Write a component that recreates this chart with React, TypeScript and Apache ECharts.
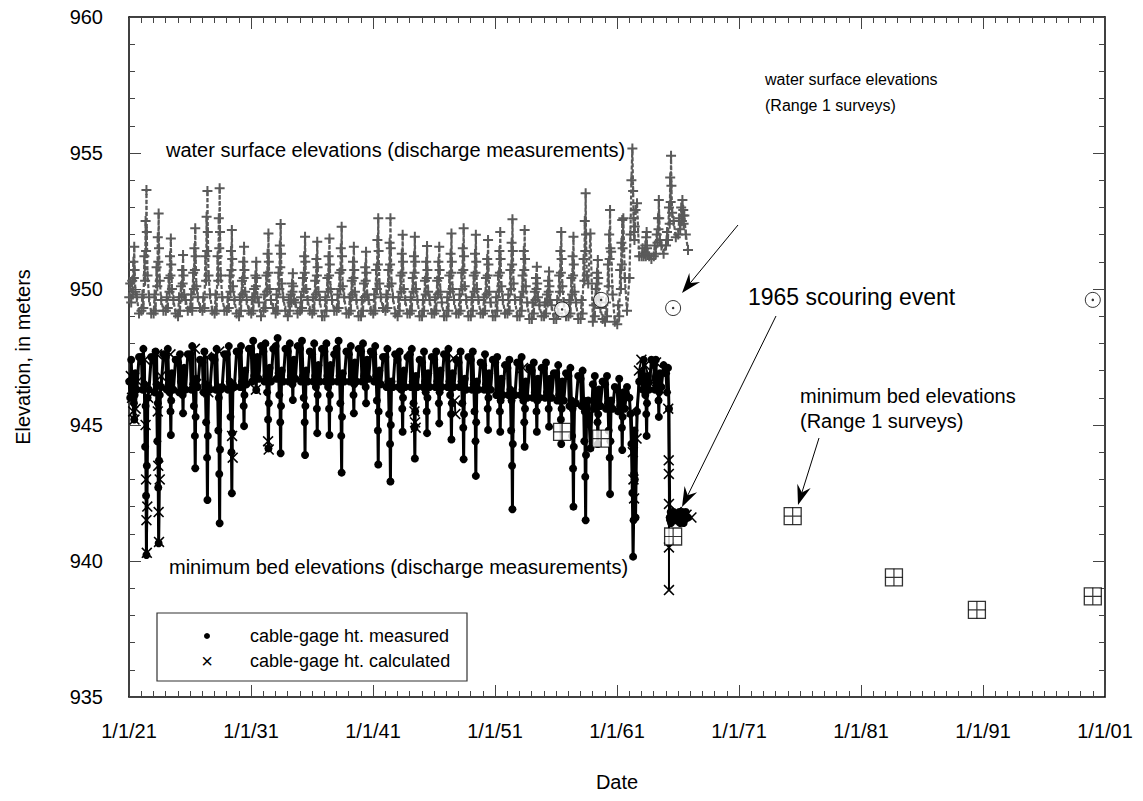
import React, { useEffect, useRef } from "react";
import * as echarts from "echarts";

const FONT = '"Liberation Sans", Arial, Helvetica, sans-serif';

// x axis runs in years after 1 Jan 1921
const AXIS_START_YEAR = 1921;
const AXIS_END_YEAR = 2001;

// fraction of the year at which each of the yearly discharge-measurement readings falls
const readingFractions = [0.02, 0.1, 0.18, 0.26, 0.32, 0.36, 0.4, 0.43, 0.46, 0.52, 0.64, 0.82];

const readingYears = [
  1921, 1922, 1923, 1924, 1925, 1926, 1927, 1928, 1929, 1930,
  1931, 1932, 1933, 1934, 1935, 1936, 1937, 1938, 1939, 1940,
  1941, 1942, 1943, 1944, 1945, 1946, 1947, 1948, 1949, 1950,
  1951, 1952, 1953, 1954, 1955, 1956, 1957, 1958, 1959, 1960,
  1961, 1962, 1963, 1964, 1965, 1966,
];

// water surface elevation (m) at each reading, one row per year
const waterSurfaceReadings = [
  [949.7, 950.2, 949.5, 950.3, 949.8, 951.0, 950.4, 951.55, 950.7, 949.9, 949.7, 949.1],
  [949.2, 949.8, 949.3, 951.2, 950.3, 952.5, 951.4, 953.64, 952.1, 950.5, 949.7, 949.1],
  [949.1, 949.8, 949.2, 950.8, 950.1, 951.9, 951.0, 952.78, 951.5, 950.3, 949.6, 949.2],
  [949.2, 949.7, 949.3, 950.4, 949.9, 951.2, 950.5, 951.86, 950.9, 950.0, 949.6, 949.1],
  [949.0, 949.7, 949.2, 950.1, 949.7, 950.7, 950.2, 951.25, 950.5, 949.8, 949.6, 949.2],
  [949.3, 949.8, 949.2, 950.6, 950.0, 951.5, 950.7, 952.23, 951.2, 950.1, 949.7, 949.3],
  [949.2, 949.7, 949.3, 951.2, 950.3, 952.66, 951.4, 953.6, 952.1, 950.5, 949.8, 949.2],
  [949.1, 949.8, 949.2, 951.2, 950.3, 952.6, 951.5, 953.7, 952.1, 950.5, 949.7, 949.2],
  [949.2, 949.7, 949.3, 950.5, 949.9, 951.4, 950.7, 952.17, 951.1, 950.1, 949.6, 949.1],
  [949.0, 949.7, 949.2, 950.3, 949.8, 951.0, 950.4, 951.55, 950.7, 949.9, 949.6, 949.2],
  [949.1, 949.7, 949.2, 950.0, 949.7, 950.5, 950.1, 951.0, 950.4, 949.7, 949.5, 949.0],
  [949.2, 949.8, 949.3, 950.5, 949.9, 951.3, 950.6, 952.04, 951.0, 950.0, 949.6, 949.3],
  [949.1, 949.8, 949.2, 950.6, 950.0, 951.6, 950.8, 952.39, 951.3, 950.2, 949.7, 949.2],
  [949.0, 949.6, 949.2, 949.8, 949.5, 950.2, 949.9, 950.58, 950.1, 949.6, 949.5, 949.1],
  [949.2, 949.7, 949.3, 950.4, 949.9, 951.2, 950.6, 951.92, 951.0, 950.0, 949.6, 949.2],
  [949.1, 949.7, 949.2, 950.3, 949.8, 951.1, 950.5, 951.74, 950.8, 949.9, 949.6, 949.0],
  [949.0, 949.7, 949.2, 950.4, 949.9, 951.2, 950.5, 951.86, 950.9, 950.0, 949.6, 949.2],
  [949.2, 949.8, 949.3, 950.6, 950.0, 951.5, 950.7, 952.29, 951.2, 950.1, 949.7, 949.1],
  [949.1, 949.7, 949.2, 950.3, 949.8, 951.0, 950.4, 951.55, 950.7, 949.9, 949.6, 949.0],
  [949.0, 949.6, 949.2, 950.2, 949.7, 950.8, 950.3, 951.37, 950.6, 949.8, 949.6, 949.2],
  [949.1, 949.8, 949.2, 950.7, 950.0, 951.8, 950.9, 952.6, 951.4, 950.2, 949.7, 949.3],
  [949.2, 949.8, 949.3, 950.7, 950.1, 951.7, 950.9, 952.6, 951.5, 950.2, 949.7, 949.1],
  [949.0, 949.7, 949.2, 950.5, 949.9, 951.3, 950.6, 951.99, 951.0, 950.0, 949.6, 949.1],
  [949.1, 949.7, 949.2, 950.4, 949.9, 951.2, 950.6, 951.92, 951.0, 950.0, 949.6, 949.0],
  [949.0, 949.6, 949.2, 950.3, 949.8, 951.0, 950.4, 951.58, 950.7, 949.9, 949.6, 949.1],
  [949.1, 949.7, 949.2, 950.3, 949.8, 951.0, 950.4, 951.55, 950.7, 949.9, 949.5, 949.0],
  [949.0, 949.7, 949.2, 950.5, 949.9, 951.3, 950.6, 952.04, 951.0, 950.0, 949.6, 949.1],
  [949.1, 949.8, 949.2, 950.6, 950.0, 951.5, 950.7, 952.23, 951.2, 950.1, 949.6, 949.0],
  [949.0, 949.7, 949.2, 950.5, 949.9, 951.3, 950.6, 951.99, 951.0, 950.0, 949.6, 949.1],
  [949.1, 949.7, 949.2, 950.4, 949.8, 951.1, 950.5, 951.8, 950.9, 949.9, 949.5, 949.0],
  [949.0, 949.7, 949.2, 950.5, 949.9, 951.4, 950.6, 952.1, 951.1, 950.1, 949.6, 949.1],
  [949.1, 949.8, 949.2, 950.7, 950.0, 951.7, 950.9, 952.56, 951.4, 950.2, 949.6, 949.0],
  [949.0, 949.7, 949.2, 950.5, 949.9, 951.4, 950.7, 952.17, 951.1, 950.1, 949.5, 948.9],
  [948.9, 949.5, 949.1, 949.9, 949.6, 950.4, 950.0, 950.82, 950.2, 949.7, 949.4, 949.0],
  [949.0, 949.5, 949.1, 949.8, 949.5, 950.3, 949.9, 950.64, 950.1, 949.6, 949.4, 948.9],
  [948.9, 949.6, 949.1, 950.5, 949.9, 951.4, 950.6, 952.1, 951.1, 950.1, 949.5, 949.0],
  [949.0, 949.6, 949.1, 950.4, 949.8, 951.2, 950.5, 951.92, 950.9, 949.9, 949.5, 948.9],
  [948.9, 949.6, 949.1, 951.1, 950.3, 952.5, 951.4, 953.52, 952.0, 950.5, 950.2, 952.04],
  [948.8, 949.4, 949.0, 950.0, 949.6, 950.6, 950.2, 951.07, 950.4, 949.7, 949.3, 948.9],
  [948.8, 949.5, 949.0, 950.9, 950.1, 952.0, 951.1, 952.9, 951.5, 951.37, 949.8, 948.8],
  [948.7, 949.4, 949.0, 950.7, 950.0, 951.7, 950.9, 952.54, 951.5, 952.6, 950.4, 949.2],
  [950.4, 952.0, 954.0, 955.17, 953.6, 952.6, 952.1, 951.8, 952.3, 952.9, 953.15, 951.2],
  [951.2, 951.5, 951.2, 951.3, 951.6, 951.2, 951.9, 952.1, 951.5, 951.3, 951.2, 951.1],
  [951.2, 951.6, 951.3, 952.0, 951.7, 952.6, 952.2, 953.27, 952.6, 951.8, 951.6, 951.3],
  [951.6, 952.1, 951.8, 953.0, 952.4, 954.1, 953.2, 954.9, 953.8, 952.8, 952.5, 951.9],
  [952.0, 952.6, 952.2, 953.0, 952.5, 953.27, 952.7, 952.9, 952.4, 952.7, 952.0, 951.43],
];

// minimum bed elevation (m) from measured cable-gage heights, one row per year
const bedMeasuredReadings = [
  [946.6, 946.0, 947.4, 946.4, 946.35, 946.8, 945.8, 945.2, 946.1, 946.9, 946.3, 947.5],
  [947.5, 946.3, 947.8, 946.5, 944.2, 945.7, 942.4, 940.22, 943.5, 946.0, 946.3, 947.5],
  [947.4, 946.2, 947.7, 946.5, 944.4, 945.8, 942.7, 940.65, 943.7, 946.1, 946.4, 947.6],
  [947.5, 946.3, 947.8, 946.5, 946.2, 946.8, 945.5, 944.63, 945.9, 946.9, 946.3, 947.4],
  [947.3, 946.2, 947.6, 946.6, 946.6, 947.0, 946.1, 945.43, 946.4, 947.1, 946.3, 947.6],
  [947.6, 946.3, 947.9, 946.5, 945.7, 946.5, 944.6, 943.41, 945.3, 946.7, 946.4, 947.4],
  [947.3, 946.2, 947.7, 946.5, 945.1, 946.2, 943.8, 942.24, 944.6, 946.4, 946.3, 947.5],
  [947.4, 946.3, 947.8, 946.4, 944.8, 946.0, 943.2, 941.39, 944.1, 946.3, 946.4, 947.6],
  [947.6, 946.3, 947.9, 946.6, 945.3, 946.3, 944.0, 942.49, 944.7, 946.5, 946.4, 947.7],
  [947.7, 946.4, 947.9, 946.6, 946.4, 946.9, 945.7, 944.96, 946.1, 947.0, 946.5, 947.8],
  [947.8, 946.6, 948.1, 946.8, 947.1, 947.4, 946.7, 946.29, 947.0, 947.5, 946.7, 947.9],
  [947.7, 946.6, 948.0, 946.8, 946.2, 946.9, 945.2, 944.14, 945.8, 947.1, 946.6, 947.8],
  [947.9, 946.7, 948.2, 946.9, 946.1, 946.8, 945.1, 943.96, 945.7, 947.0, 946.6, 947.8],
  [947.7, 946.6, 948.0, 946.8, 947.0, 947.3, 946.5, 945.92, 946.8, 947.4, 946.7, 947.9],
  [947.8, 946.6, 948.1, 946.8, 946.0, 946.8, 945.1, 943.9, 945.7, 947.0, 946.6, 947.7],
  [947.6, 946.6, 948.0, 946.8, 946.4, 947.0, 945.6, 944.7, 946.1, 947.2, 946.6, 947.8],
  [947.7, 946.6, 948.0, 946.8, 946.4, 947.0, 945.6, 944.63, 946.1, 947.2, 946.6, 947.6],
  [947.8, 946.6, 948.1, 946.8, 945.8, 946.7, 944.6, 943.25, 945.3, 946.9, 946.6, 947.7],
  [947.6, 946.6, 947.9, 946.8, 946.7, 947.2, 946.1, 945.43, 946.5, 947.3, 946.6, 947.8],
  [947.7, 946.6, 948.0, 946.8, 946.9, 947.3, 946.4, 945.8, 946.7, 947.4, 946.7, 947.7],
  [947.6, 946.6, 947.9, 946.8, 945.9, 946.7, 944.8, 943.55, 945.5, 947.0, 946.5, 947.5],
  [947.5, 946.4, 947.8, 946.6, 945.4, 946.4, 944.3, 942.92, 945.0, 946.6, 946.4, 947.6],
  [947.4, 946.4, 947.7, 946.6, 946.3, 946.8, 945.6, 944.75, 946.0, 947.0, 946.4, 947.5],
  [947.6, 946.4, 947.8, 946.6, 945.8, 946.6, 944.9, 943.77, 945.5, 946.8, 946.4, 947.4],
  [947.3, 946.4, 947.7, 946.6, 946.2, 946.8, 945.5, 944.7, 946.0, 946.9, 946.4, 947.5],
  [947.4, 946.4, 947.7, 946.6, 946.4, 946.9, 945.8, 945.06, 946.2, 947.0, 946.4, 947.6],
  [947.5, 946.4, 947.8, 946.6, 946.1, 946.7, 945.4, 944.47, 945.8, 946.9, 946.4, 947.4],
  [947.3, 946.4, 947.7, 946.6, 945.8, 946.6, 944.9, 943.74, 945.4, 946.7, 946.3, 947.5],
  [947.4, 946.3, 947.7, 946.5, 945.5, 946.4, 944.4, 943.13, 945.1, 946.6, 946.3, 947.3],
  [947.2, 946.3, 947.6, 946.5, 946.3, 946.8, 945.6, 944.82, 946.0, 946.9, 946.3, 947.4],
  [947.3, 946.1, 947.5, 946.3, 946.1, 946.6, 945.5, 944.75, 945.9, 946.7, 946.1, 947.2],
  [947.1, 946.1, 947.4, 946.3, 944.8, 945.9, 943.5, 941.9, 944.3, 946.1, 946.1, 947.3],
  [947.2, 946.1, 947.5, 946.3, 945.9, 946.5, 945.1, 944.2, 945.6, 946.6, 946.0, 947.1],
  [947.0, 946.0, 947.3, 946.2, 946.1, 946.6, 945.5, 944.75, 945.9, 946.7, 946.0, 947.1],
  [947.1, 946.0, 947.3, 946.2, 946.2, 946.6, 945.6, 944.94, 946.0, 946.7, 946.0, 946.9],
  [946.9, 945.9, 947.2, 946.1, 945.9, 946.5, 945.2, 944.3, 945.6, 946.6, 945.9, 946.9],
  [946.8, 945.7, 947.1, 945.9, 944.6, 945.6, 943.4, 942.0, 944.2, 945.8, 945.8, 946.8],
  [946.7, 945.7, 947.0, 945.9, 944.4, 945.5, 943.1, 941.5, 943.9, 945.7, 945.9, 944.14],
  [946.5, 945.6, 946.8, 945.8, 945.7, 946.2, 945.1, 944.3, 945.4, 946.3, 945.7, 946.6],
  [946.5, 945.6, 946.8, 945.8, 944.8, 945.7, 943.8, 942.46, 944.4, 945.9, 945.6, 946.4],
  [946.3, 945.5, 946.7, 945.7, 945.6, 946.1, 944.9, 944.08, 945.3, 946.2, 945.6, 946.4],
  [946.0, 945.4, 944.3, 942.5, 940.16, 941.5, 943.2, 944.8, 943.0, 941.6, 945.5, 946.6],
  [946.9, 946.3, 947.4, 946.5, 946.1, 946.6, 945.4, 944.6, 945.8, 946.8, 946.3, 947.4],
  [947.2, 946.3, 947.4, 946.5, 946.4, 946.8, 945.9, 945.3, 946.2, 946.9, 946.4, 947.2],
  [946.9, 946.2, 947.1, 945.6, 941.6, 941.5, 941.8, 941.4, 941.7, 941.5, 941.8, 941.5],
  [941.6, 941.8, 941.4, 941.7, 941.5, 941.8, 941.6, 941.7, 941.4, 941.6, 941.8, 941.6],
];

// calculated cable-gage heights: [decimal year, elevation], grouped into connected runs
const bedCalculatedRuns = [
  [[1921.15, 946.8], [1921.25, 946.0], [1921.35, 945.5], [1921.45, 945.2], [1921.55, 945.6], [1921.7, 946.6]],
  [[1922.3, 947.4], [1922.36, 945.0], [1922.4, 943.0], [1922.43, 941.5], [1922.46, 940.3], [1922.5, 942.0], [1922.58, 946.0]],
  [[1923.3, 947.6], [1923.36, 945.5], [1923.4, 943.5], [1923.43, 941.8], [1923.46, 940.7], [1923.52, 943.0], [1923.62, 946.8]],
  [[1924.4, 947.6]],
  [[1926.4, 947.8], [1926.5, 946.5]],
  [[1927.4, 947.5], [1927.5, 946.2]],
  [[1928.4, 947.7]],
  [[1929.45, 944.6], [1929.5, 943.8]],
  [[1931.4, 946.3]],
  [[1932.4, 944.4], [1932.45, 944.1]],
  [[1944.4, 945.5], [1944.45, 945.1], [1944.5, 944.9]],
  [[1947.6, 947.45]],
  [[1947.7, 945.9], [1947.75, 945.4]],
  [[1953.3, 947.1]],
  [[1962.2, 945.5], [1962.3, 944.0], [1962.35, 943.0], [1962.4, 942.3], [1962.6, 944.5], [1962.8, 947.0], [1963.0, 947.4]],
  [[1963.3, 947.2], [1963.8, 946.5], [1964.2, 947.3]],
  [[1965.2, 945.6], [1965.24, 943.7], [1965.25, 943.2], [1965.26, 942.1], [1965.26, 940.5], [1965.26, 938.93]],
  [[1965.6, 941.6], [1965.9, 941.8], [1966.3, 941.5], [1966.7, 941.7], [1967.1, 941.6]],
];

// Range 1 surveys: [decimal year, elevation]
const range1WaterSurface = [
  [1956.5, 949.25],
  [1959.7, 949.6],
  [1965.6, 949.3],
  [2000.0, 949.6],
];
const range1MinBed = [
  [1956.5, 944.75],
  [1959.7, 944.5],
  [1965.6, 940.9],
  [1975.4, 941.65],
  [1983.7, 939.4],
  [1990.5, 938.2],
  [2000.0, 938.7],
];

const toAxis = (year: number) => year - AXIS_START_YEAR;

function seriesFromReadings(rows: number[][]) {
  const out: number[][] = [];
  readingYears.forEach((yr, i) => {
    rows[i].forEach((v, j) => out.push([toAxis(yr + readingFractions[j]), v]));
  });
  return out;
}

function seriesFromRuns(runs: number[][][]) {
  const out: any[] = [];
  runs.forEach((run, i) => {
    if (i > 0) out.push([toAxis(run[0][0]), "-"]);
    run.forEach(([t, v]) => out.push([toAxis(t), v]));
  });
  return out;
}

const PLUS = "path://M4,0H6V4H10V6H6V10H4V6H0V4H4Z";
const CROSS = "path://M0,1L1,0L5,4L9,0L10,1L6,5L10,9L9,10L5,6L1,10L0,9L4,5Z";
const GRID_CROSS = "path://M9.3,0H10.7V20H9.3Z M0,9.3H20V10.7H0Z";

function arrow(x1: number, y1: number, x2: number, y2: number) {
  const dx = x2 - x1;
  const dy = y2 - y1;
  const len = Math.hypot(dx, dy);
  const ux = dx / len;
  const uy = dy / len;
  const px = -uy;
  const py = ux;
  const headLen = 20;
  const headW = 7;
  const notch = 13;
  const bx = x2 - ux * headLen;
  const by = y2 - uy * headLen;
  const nx = x2 - ux * notch;
  const ny = y2 - uy * notch;
  return [
    { type: "line", shape: { x1, y1, x2: nx, y2: ny }, style: { stroke: "#000", lineWidth: 1 } },
    {
      type: "polygon",
      shape: { points: [[x2, y2], [bx + px * headW, by + py * headW], [nx, ny], [bx - px * headW, by - py * headW]] },
      style: { fill: "#000" },
    },
  ];
}

function label(text: string, x: number, y: number, size: number) {
  return {
    type: "text",
    x,
    y,
    style: { text, fontSize: size, fontFamily: FONT, fill: "#000", align: "left", verticalAlign: "middle" },
  };
}

const tickStyle = { color: "#444", width: 1 };

function xAxisBase(position: "bottom" | "top", showLabels: boolean) {
  return {
    type: "value",
    position,
    min: 0,
    max: AXIS_END_YEAR - AXIS_START_YEAR,
    interval: 10,
    axisLine: { show: true, onZero: false, lineStyle: { color: "#000", width: 1.5 } },
    axisTick: { show: true, inside: true, length: 12, lineStyle: tickStyle },
    minorTick: { show: true, splitNumber: 10, length: 6, lineStyle: tickStyle },
    splitLine: { show: false },
    axisLabel: {
      show: showLabels,
      margin: 24,
      fontSize: 20,
      fontFamily: FONT,
      color: "#000",
      formatter: (v: number) => `1/1/${String((AXIS_START_YEAR + v) % 100).padStart(2, "0")}`,
    },
  };
}

function yAxisBase(position: "left" | "right", showLabels: boolean) {
  return {
    type: "value",
    position,
    min: 935,
    max: 960,
    interval: 5,
    axisLine: { show: true, onZero: false, lineStyle: { color: "#000", width: 1.5 } },
    axisTick: { show: true, inside: true, length: 12, lineStyle: tickStyle },
    minorTick: { show: true, splitNumber: 5, length: 6, lineStyle: tickStyle },
    splitLine: { show: false },
    axisLabel: { show: showLabels, margin: 26, fontSize: 20, fontFamily: FONT, color: "#000" },
  };
}

export default function App() {
  const ref = useRef<HTMLDivElement>(null);

  useEffect(() => {
    if (!ref.current) return;
    const chart = echarts.init(ref.current, null, { renderer: "svg" });

    const option: any = {
      animation: false,
      backgroundColor: "#fff",
      grid: { left: 129, top: 17, width: 976, height: 680 },
      xAxis: [xAxisBase("bottom", true), xAxisBase("top", false)],
      yAxis: [yAxisBase("left", true), yAxisBase("right", false)],
      series: [
        {
          name: "water surface elevations (discharge measurements)",
          type: "line",
          data: seriesFromReadings(waterSurfaceReadings),
          showAllSymbol: true,
          symbol: PLUS,
          symbolSize: 10,
          itemStyle: { color: "#5a5a5a" },
          lineStyle: { color: "#5a5a5a", width: 2.2, type: [4, 2] },
          silent: true,
        },
        {
          name: "cable-gage ht. measured",
          type: "line",
          data: seriesFromReadings(bedMeasuredReadings),
          showAllSymbol: true,
          symbol: "circle",
          symbolSize: 8,
          itemStyle: { color: "#000" },
          lineStyle: { color: "#000", width: 3 },
          silent: true,
        },
        {
          name: "cable-gage ht. calculated",
          type: "line",
          data: seriesFromRuns(bedCalculatedRuns),
          connectNulls: false,
          showAllSymbol: true,
          symbol: CROSS,
          symbolSize: 11,
          itemStyle: { color: "#000" },
          lineStyle: { color: "#000", width: 2 },
          silent: true,
        },
        {
          name: "water surface elevations (Range 1 surveys)",
          type: "scatter",
          data: range1WaterSurface.map(([t, v]) => [toAxis(t), v]),
          symbol: "circle",
          symbolSize: 15,
          itemStyle: { color: "#fff", borderColor: "#000", borderWidth: 1 },
          silent: true,
          z: 3,
        },
        {
          type: "scatter",
          data: range1WaterSurface.map(([t, v]) => [toAxis(t), v]),
          symbol: "circle",
          symbolSize: 2.5,
          itemStyle: { color: "#000" },
          silent: true,
          z: 4,
        },
        {
          name: "minimum bed elevations (Range 1 surveys)",
          type: "scatter",
          data: range1MinBed.map(([t, v]) => [toAxis(t), v]),
          symbol: "rect",
          symbolSize: 17,
          itemStyle: { color: "#fff", borderColor: "#000", borderWidth: 1.3 },
          silent: true,
          z: 3,
        },
        {
          type: "scatter",
          data: range1MinBed.map(([t, v]) => [toAxis(t), v]),
          symbol: GRID_CROSS,
          symbolSize: 17,
          itemStyle: { color: "#000" },
          silent: true,
          z: 4,
        },
      ],
      graphic: [
        {
          type: "text",
          x: 23,
          y: 357,
          rotation: Math.PI / 2,
          style: { text: "Elevation, in meters", fontSize: 20, fontFamily: FONT, fill: "#000", align: "center", verticalAlign: "middle" },
        },
        {
          type: "text",
          x: 617,
          y: 782,
          style: { text: "Date", fontSize: 20, fontFamily: FONT, fill: "#000", align: "center", verticalAlign: "middle" },
        },
        label("water surface elevations (discharge measurements)", 166, 150, 20),
        label("minimum bed elevations (discharge measurements)", 169, 567, 20),
        label("water surface elevations", 765, 79, 16),
        label("(Range 1 surveys)", 765, 105, 16),
        label("1965 scouring event", 748, 297, 23),
        label("minimum bed elevations", 800, 396, 20),
        label("(Range 1 surveys)", 800, 421, 20),
        ...arrow(738, 225, 682, 293),
        ...arrow(776, 316, 682, 507),
        ...arrow(819, 438, 798, 505),
        {
          type: "rect",
          shape: { x: 157, y: 613, width: 310, height: 68 },
          style: { fill: "#fff", stroke: "#333", lineWidth: 1.2 },
        },
        { type: "circle", shape: { cx: 207, cy: 636, r: 3 }, style: { fill: "#000" } },
        {
          type: "text",
          x: 207,
          y: 661,
          style: { text: "×", fontSize: 20, fontFamily: FONT, fill: "#000", align: "center", verticalAlign: "middle" },
        },
        label("cable-gage ht. measured", 250, 636, 18),
        label("cable-gage ht. calculated", 250, 661, 18),
      ],
    };

    chart.setOption(option);
    return () => chart.dispose();
  }, []);

  return (
    <div
      ref={ref}
      style={{ position: "absolute", left: 0, top: 0, width: 1143, height: 801, background: "#fff" }}
    />
  );
}
